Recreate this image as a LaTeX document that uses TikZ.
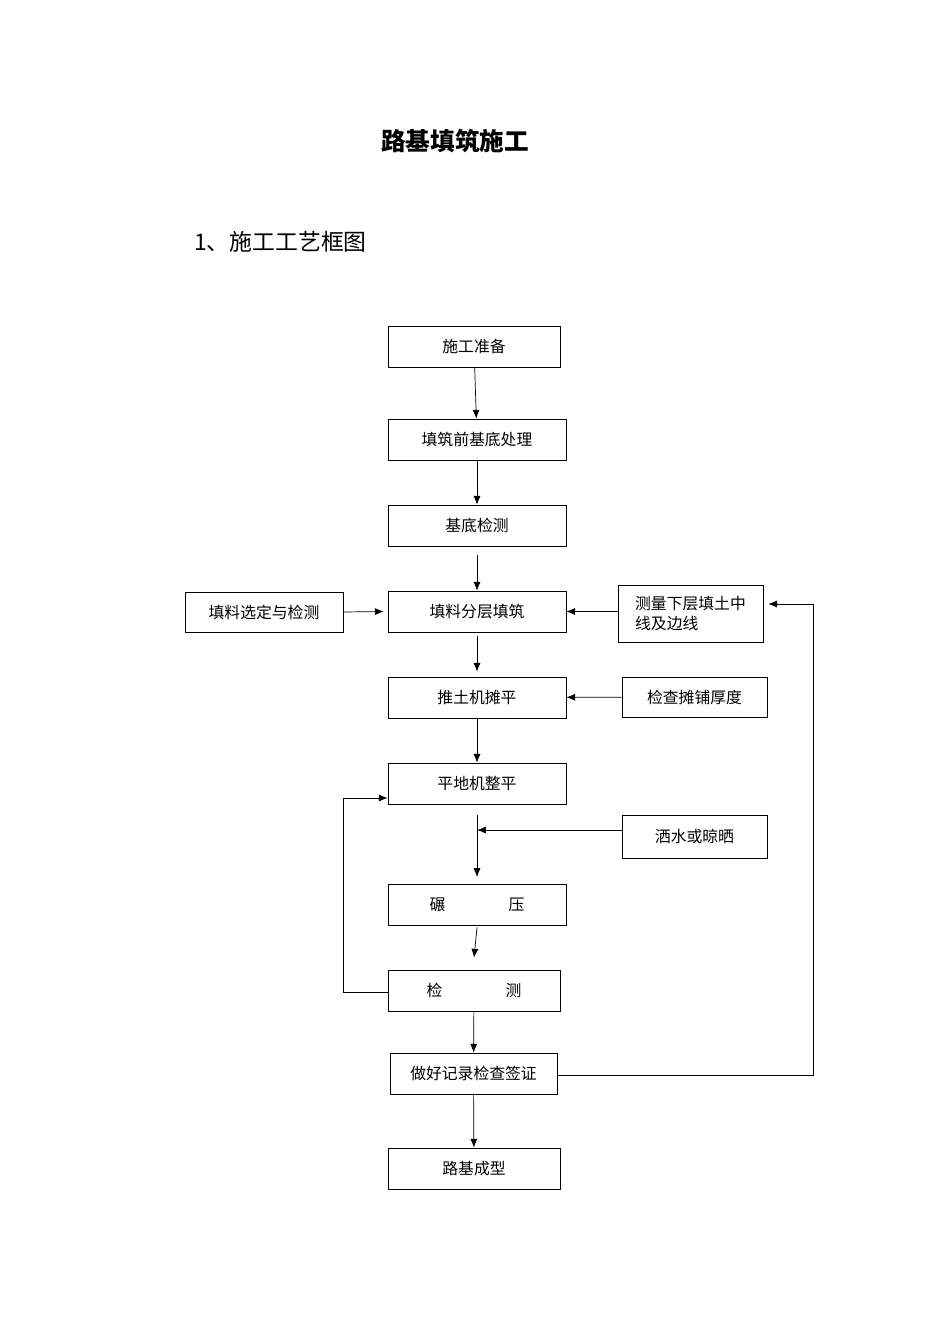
\documentclass[tikz,border=0pt]{standalone}
\usepackage{fontspec}
\setmainfont{Noto Sans CJK SC}
\usetikzlibrary{positioning}
\usetikzlibrary{arrows.meta}
\begin{document}
\begin{tikzpicture}[x=0.02cm,y=-0.02cm,font=\fontsize{9pt}{11pt}\selectfont,
      box style/.style={rectangle,draw=black,inner sep=0pt,align=center},
      arr style/.style={-{Latex[length=5pt,width=4pt]}}
      ]
      \useasboundingbox (0,0) rectangle (950,1344);

      \node[font=\fontsize{14pt}{16pt}\selectfont\bfseries] (title) at (455,141) {路基填筑施工};
      \node[anchor=west,font=\fontsize{13pt}{15pt}\selectfont] (sub) at (188,242) {1、施工工艺框图};

      % main column
      \node[box style,minimum width=172\pgflinewidth,minimum width=3.44cm,minimum height=0.82cm] (prep) at (474,346.5) {施工准备};
      \node[box style,minimum width=3.56cm,minimum height=0.82cm] (base) at (477,439.5) {填筑前基底处理};
      \node[box style,minimum width=3.56cm,minimum height=0.82cm] (check) at (477,525.5) {基底检测};
      \node[box style,minimum width=3.56cm,minimum height=0.82cm] (fill) at (477,611.5) {填料分层填筑};
      \node[box style,minimum width=3.56cm,minimum height=0.82cm] (doze) at (477,697.5) {推土机摊平};
      \node[box style,minimum width=3.56cm,minimum height=0.82cm] (grade) at (477,783.5) {平地机整平};
      \node[box style,minimum width=3.56cm,minimum height=0.82cm] (roll) at (477,904.5) {碾\hspace{4em}压};
      \node[box style,minimum width=3.44cm,minimum height=0.82cm] (test) at (474,990.5) {检\hspace{4em}测};
      \node[box style,minimum width=3.34cm,minimum height=0.82cm] (record) at (473.5,1073.5) {做好记录检查签证};
      \node[box style,minimum width=3.44cm,minimum height=0.82cm] (done) at (474,1168.5) {路基成型};

      % side boxes
      \node[box style,minimum width=3.16cm,minimum height=0.80cm] (select) at (264,612) {填料选定与检测};
      \node[box style,minimum width=2.90cm,minimum height=1.14cm,align=left] (survey) at (690.5,613.5) {测量下层填土中\\线及边线};
      \node[box style,minimum width=2.90cm,minimum height=0.80cm] (thick) at (694.5,697) {检查摊铺厚度};
      \node[box style,minimum width=2.90cm,minimum height=0.86cm] (water) at (694.5,836.5) {洒水或晾晒};

      \coordinate (g1) at (477,815);
      \coordinate (g2) at (477,877);
      \coordinate (w1) at (477,830);
      \coordinate (lp1) at (343,992);
      \coordinate (lp2) at (343,798);
      \coordinate (rp1) at (813,1075);
      \coordinate (rp2) at (813,604);

      \draw[arr style] (prep) -- (base);
      \draw[arr style] (base) -- (check);
      \draw[arr style] ([yshift=-0.18cm]check.south) -- ([yshift=0.0cm]fill.north);
      \draw[arr style] ([yshift=-0.08cm]fill.south) -- ([yshift=0.1cm]doze.north);
      \draw[arr style] (doze) -- (grade);
      \draw[arr style] (g1) -- (g2);
      \draw[arr style] (water.west |- w1) -- (w1);
      \draw[arr style] ([yshift=-0.04cm]roll.south) -- ([yshift=0.24cm]test.north);
      \draw[arr style] (test) -- (record);
      \draw[arr style] (record) -- (done);
      \draw[arr style] (select.east) -- ([xshift=-0.08cm]fill.west);
      \draw[arr style] (survey.west |- fill) -- (fill);
      \draw[arr style] (thick) -- (doze);
      \draw[arr style] (test.west |- lp1) -- (lp1) -- (lp2) -- (grade.west |- lp2);
      \draw[arr style] (record.east |- rp1) -- (rp1) -- (rp2) -- ([xshift=0.1cm]survey.east |- rp2);
    \end{tikzpicture}
\end{document}
